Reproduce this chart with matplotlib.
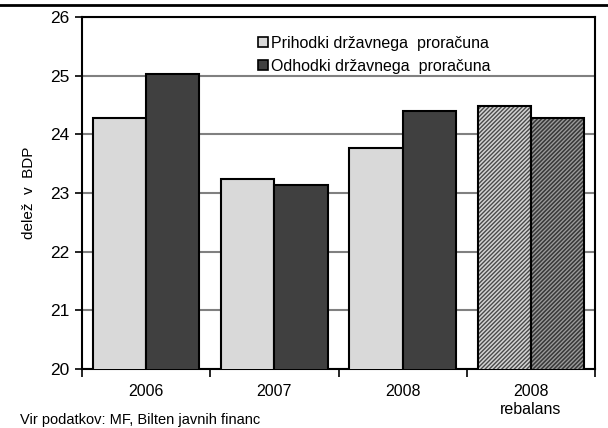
import matplotlib
matplotlib.use("Agg")
import numpy as np
from matplotlib import pyplot as plt
from matplotlib.lines import Line2D

plt.rcParams['font.family'] = ['Liberation Sans', 'DejaVu Sans']
plt.rcParams['hatch.linewidth'] = 1.0

# data (share of GDP, %)
categories = ['2006', '2007', '2008', '2008\nrebalans']
prihodki = [24.27, 23.24, 23.77, 24.48]
odhodki = [25.03, 23.14, 24.40, 24.28]
labels = ['Prihodki državnega  proračuna', 'Odhodki državnega  proračuna']

light = '#d9d9d9'
dark = '#404040'
w = 0.415

fig = plt.figure(figsize=(6.08, 4.28), dpi=100)
ax = fig.add_axes([82/608, 1 - 369/428, 513/608, 352/428])

x = np.arange(len(categories))
n = len(categories)
# plain bars for first three years, hatched for the revised budget
ax.bar(x[:n-1] - w/2, prihodki[:n-1], w, color=light,
       edgecolor='black', linewidth=1.5, zorder=3)
ax.bar(x[:n-1] + w/2, odhodki[:n-1], w, color=dark,
       edgecolor='black', linewidth=1.5, zorder=3)

ax.bar(x[n-1] - w/2, prihodki[n-1], w, color='#d4d4d4', hatch='////////',
       edgecolor='#4a4a4a', linewidth=0, zorder=3)
ax.bar(x[n-1] + w/2, odhodki[n-1], w, color='#383838', hatch='////////',
       edgecolor='#9a9a9a', linewidth=0, zorder=3)
ax.bar(x[n-1] - w/2, prihodki[n-1], w, fill=False,
       edgecolor='black', linewidth=1.5, zorder=4)
ax.bar(x[n-1] + w/2, odhodki[n-1], w, fill=False,
       edgecolor='black', linewidth=1.5, zorder=4)

ax.set_ylim(20, 26)
ax.set_xlim(-0.5, n - 0.5)
ax.set_yticks(range(20, 27))
ax.tick_params(axis='y', labelsize=12.5, length=5, width=1.2, direction='out', pad=4)

ax.set_xticks(x)
ax.set_xticklabels(categories, fontsize=11.5, linespacing=1.25)
ax.tick_params(axis='x', which='major', length=0, pad=11)
ax.set_xticks(np.arange(-0.5, n), minor=True)
ax.tick_params(axis='x', which='minor', length=6, width=1.2, direction='out')

ax.yaxis.grid(True, color='#808080', linewidth=1.5, zorder=0)
ax.set_axisbelow(True)
for s in ax.spines.values():
    s.set_linewidth(1.5)
    s.set_color('black')

ax.set_ylabel('delež  v  BDP', fontsize=11, labelpad=10)

handles = [plt.Rectangle((0, 0), 1, 1, facecolor=light, edgecolor='black', linewidth=1.2),
           plt.Rectangle((0, 0), 1, 1, facecolor=dark, edgecolor='black', linewidth=1.2)]
ax.legend(handles, labels, loc='upper left', bbox_to_anchor=(0.33, 0.965),
          frameon=False, fontsize=11.5, handlelength=0.65, handleheight=0.65,
          handletextpad=0.2, labelspacing=0.5, borderaxespad=0)

# rule below the (clipped) title and the source note at the bottom
fig.add_artist(Line2D([0, 1], [1 - 5/428, 1 - 5/428], color='black', linewidth=2))
fig.text(20/608, 1 - 413/428, 'Vir podatkov: MF, Bilten javnih financ',
         fontsize=10.5, va='top', ha='left')

fig.savefig('out.png', dpi=100)
